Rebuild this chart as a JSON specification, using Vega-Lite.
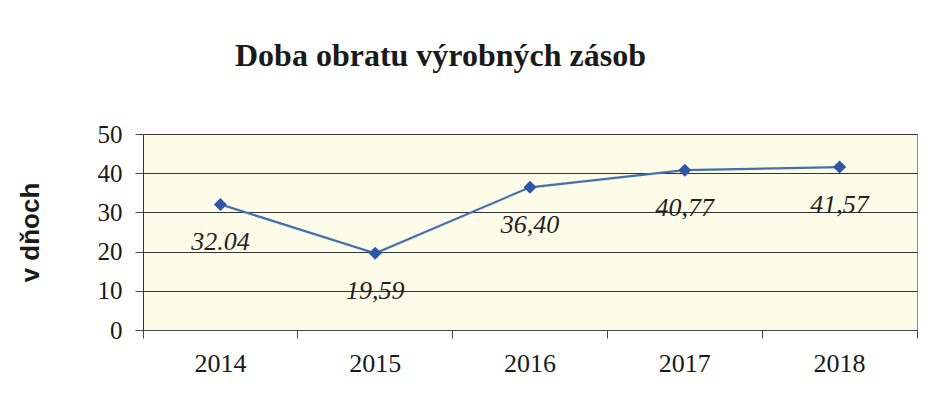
{
  "$schema": "https://vega.github.io/schema/vega-lite/v6.json",
  "autosize": {"type": "none"},
  "padding": {"left": 143, "top": 134, "right": 21, "bottom": 83},
  "width": 774,
  "height": 196,
  "background": "white",
  "title": {
    "text": "Doba obratu výrobných zásob",
    "font": "Liberation Serif",
    "fontSize": 32,
    "fontWeight": "bold",
    "color": "#1a1a1a",
    "anchor": "start",
    "frame": "group",
    "dx": 92,
    "baseline": "alphabetic",
    "offset": 24
  },
  "data": {
    "values": [
      {"rok": "2014", "dni": 32.04, "popis": "32.04"},
      {"rok": "2015", "dni": 19.59, "popis": "19,59"},
      {"rok": "2016", "dni": 36.40, "popis": "36,40"},
      {"rok": "2017", "dni": 40.77, "popis": "40,77"},
      {"rok": "2018", "dni": 41.57, "popis": "41,57"}
    ]
  },
  "encoding": {
    "x": {
      "field": "rok",
      "type": "ordinal",
      "scale": {"type": "band", "paddingInner": 0, "paddingOuter": 0},
      "axis": {
        "title": null,
        "labelAngle": 0,
        "labelFont": "Liberation Serif",
        "labelFontSize": 26,
        "labelColor": "#1a1a1a",
        "labelPadding": 12,
        "bandPosition": 1,
        "tickExtra": true,
        "tickSize": 8,
        "tickColor": "#444",
        "domainColor": "#444",
        "grid": false
      }
    },
    "y": {
      "field": "dni",
      "type": "quantitative",
      "scale": {"domain": [0, 50], "nice": false},
      "axis": {
        "title": "v dňoch",
        "titleFont": "Liberation Sans",
        "titleFontSize": 26,
        "titleFontWeight": "bold",
        "titleColor": "#1a1a1a",
        "titlePadding": 54,
        "values": [0, 10, 20, 30, 40, 50],
        "labelFont": "Liberation Serif",
        "labelFontSize": 25,
        "labelColor": "#1a1a1a",
        "labelPadding": 13,
        "tickSize": 8,
        "tickColor": "#444",
        "domainColor": "#333",
        "grid": true,
        "gridColor": "#333",
        "gridWidth": 1
      }
    }
  },
  "layer": [
    {"mark": {"type": "line", "color": "#4470b0", "strokeWidth": 2.2}},
    {"mark": {"type": "point", "shape": "diamond", "filled": true, "color": "#2f56a6", "size": 170, "opacity": 1}},
    {
      "mark": {
        "type": "text",
        "font": "Liberation Serif",
        "fontSize": 26,
        "fontStyle": "italic",
        "color": "#222",
        "dy": 38,
        "baseline": "middle"
      },
      "encoding": {"text": {"field": "popis"}}
    }
  ],
  "config": {
    "font": "Liberation Serif",
    "view": {"fill": "#fcfce8", "stroke": "#888", "strokeWidth": 1}
  }
}
